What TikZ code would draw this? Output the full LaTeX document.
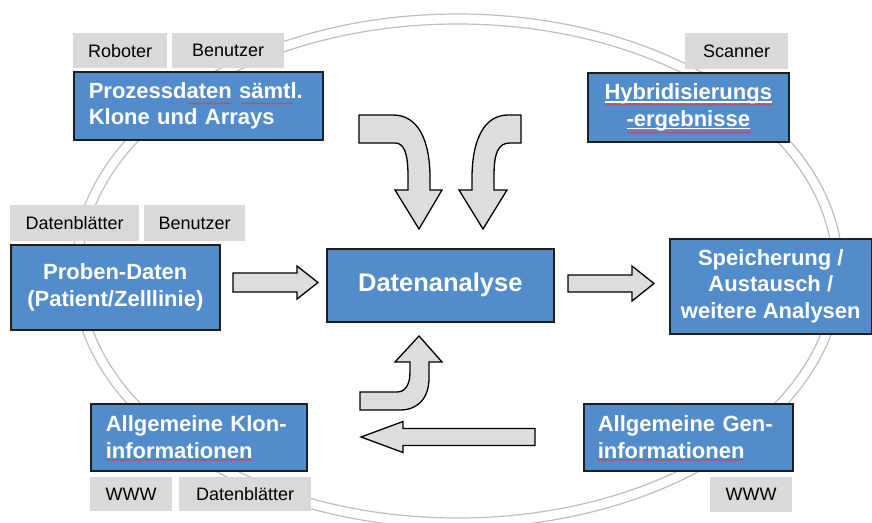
\documentclass[tikz,border=0pt]{standalone}
\usepackage{fontspec}
\usetikzlibrary{decorations.pathmorphing}
\setmainfont{Liberation Sans}
\definecolor{boxblue}{RGB}{82,140,202}
\definecolor{labgray}{RGB}{217,217,217}
\definecolor{arrgray}{RGB}{221,221,221}
\definecolor{ellgray}{RGB}{190,190,190}
\definecolor{spellred}{RGB}{220,60,60}
\newcommand\wul[1]{\setbox0\hbox{#1}\rlap{\rule[-3.2pt]{\wd0}{1.4pt}}\box0}
\tikzset{
  bluebox/.style={draw=black!88, line width=1.6pt, fill=boxblue, text=white,
    font=\fontsize{22}{26.5}\selectfont\bfseries, inner sep=0pt, anchor=north west},
  labbox/.style={fill=labgray, font=\fontsize{18}{20}\selectfont, inner sep=0pt, anchor=north west},
  blockarrow/.style={draw=black, line width=1.3pt, fill=arrgray, line join=miter},
  ring/.style={draw=ellgray, line width=1.2pt},
  spell/.style={draw=spellred, line width=0.6pt, decorate,
    decoration={snake, segment length=3pt, amplitude=0.7pt}}
}
\begin{document}
\begin{tikzpicture}[x=1pt,y=-1pt]
\useasboundingbox (0,0) rectangle (872,522);
% ellipses
\draw[ring] (457.5,271) ellipse [x radius=385.5pt, y radius=257pt];
\draw[ring] (457.5,271) ellipse [x radius=375.5pt, y radius=247pt];

% top labels and boxes
\node[labbox, minimum width=94pt, minimum height=35pt] (rob) at (73,33) {Roboter};
\node[labbox, minimum width=112pt, minimum height=35pt] (ben1) at (172,33) {Benutzer};
\node[bluebox, minimum width=249pt, minimum height=68pt, text width=219pt, align=left] (proz) at (73,71)
  {Prozessdaten sämtl.\\Klone und Arrays};

\node[labbox, minimum width=103pt, minimum height=36pt] (scan) at (685,33) {Scanner};
\node[bluebox, minimum width=201pt, minimum height=69pt, align=center] (hyb) at (587,72)
  {\wul{Hybridisierungs}\\\wul{-ergebnisse}};

% middle row
\node[labbox, minimum width=129pt, minimum height=36pt] (dbl1) at (10,205) {Datenblätter};
\node[labbox, minimum width=101pt, minimum height=36pt] (ben2) at (144,205) {Benutzer};
\node[bluebox, minimum width=209pt, minimum height=85pt, align=center] (prob) at (10,244)
  {Proben-Daten\\(Patient/Zelllinie)};
\node[bluebox, minimum width=227pt, minimum height=73pt, align=center,
  font=\fontsize{25.5}{30}\selectfont\bfseries] (ana) at (326,248) {Datenanalyse};
\node[bluebox, minimum width=202pt, minimum height=95pt, align=center] (spei) at (669,238)
  {Speicherung /\\Austausch /\\weitere Analysen};

% bottom
\node[bluebox, minimum width=216pt, minimum height=67pt, text width=186pt, align=left] (klon) at (90,403)
  {Allgemeine Klon-\\informationen};
\node[labbox, minimum width=82pt, minimum height=34pt] (www1) at (90,477) {WWW};
\node[labbox, minimum width=132pt, minimum height=34pt] (dbl2) at (179,477) {Datenblätter};

\node[bluebox, minimum width=209pt, minimum height=67pt, text width=181pt, align=left] (gen) at (583,403)
  {Allgemeine Gen-\\informationen};
\node[labbox, minimum width=82pt, minimum height=35pt] (www2) at (710,477) {WWW};

% spell-check marks
\draw[spell] (188,103.5) -- (231,103.5);
\draw[spell] (241,103.5) -- (293,103.5);
\draw[spell] (605,104.5) -- (772,104.5);
\draw[spell] (627,132.5) -- (750,132.5);
\draw[spell] (106,460) -- (252,460);
\draw[spell] (597,460) -- (743,460);

% block arrows
% Proben -> Datenanalyse
\draw[blockarrow] (233,273) -- (297,273) -- (297,266) -- (318,282.5) -- (297,299) -- (297,292) -- (233,292) -- cycle;
% Datenanalyse -> Speicherung
\draw[blockarrow] (568,275) -- (632,275) -- (632,266) -- (654,283.5) -- (632,301) -- (632,292) -- (568,292) -- cycle;
% Gen -> Klon
\draw[blockarrow] (535,428.5) -- (403,428.5) -- (403,421.5) -- (361,437) -- (403,452.5) -- (403,445.5) -- (535,445.5) -- cycle;
% top-left bent arrow
\draw[blockarrow] (359,115) -- (393,115) .. controls (418,115) and (430,140) .. (430,178) -- (430,190)
  -- (442,190) -- (419,229) -- (395,190) -- (408,190) -- (408,176)
  .. controls (408,153) and (404,143) .. (395,143) -- (359,143) -- cycle;
% top-right bent arrow
\draw[blockarrow] (521,115) -- (508,115) .. controls (484,115) and (472,140) .. (472,178) -- (472,190)
  -- (459,190) -- (483,229) -- (507,190) -- (494,190) -- (494,176)
  .. controls (494,153) and (498,143) .. (510,143) -- (521,143) -- cycle;
% bottom bent arrow (up)
\draw[blockarrow] (360,392) -- (397,392) .. controls (405,392) and (410,385) .. (410,372) -- (410,362)
  -- (395,362) -- (419,336) -- (442,362) -- (429,362) -- (429,378)
  .. controls (429,398) and (418,410) .. (400,410) -- (360,410) -- cycle;
\end{tikzpicture}
\end{document}
